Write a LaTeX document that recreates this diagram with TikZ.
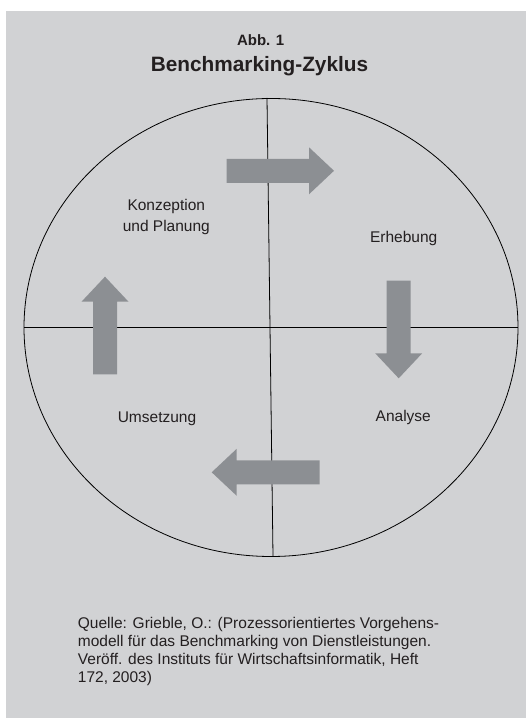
\documentclass[tikz,border=0pt]{standalone}
\usepackage{fontspec}
\setmainfont{Liberation Sans}
\usepackage{tikz}
\usetikzlibrary{positioning}
\definecolor{PanelBG}{HTML}{D1D2D4}
\definecolor{ArrowGrey}{HTML}{8C8F93}
\definecolor{InkCol}{HTML}{231F20}

\begin{document}
\begin{tikzpicture}[x=1pt,y=1pt,
  every node/.style={inner sep=0pt, text=InkCol},
  phase/.style={font=\fontsize{15.5}{21.3}\selectfont, align=center, anchor=base},
  axis/.style={draw=black, line width=0.8pt},
  pics/blockarrow/.style={code={
    \fill[ArrowGrey] (0,-12) -- (#1-25,-12) -- (#1-25,-23.5) -- (#1,0)
      -- (#1-25,23.5) -- (#1-25,12) -- (0,12) -- cycle;}}]
  \useasboundingbox (0,0) rectangle (526,718);
  \fill[PanelBG] (6,0) rectangle (526,707);
  % title
  \node[font=\bfseries\fontsize{15}{18}\selectfont, anchor=base] (abb) at (260.7,672) {Abb. 1};
  \node[font=\bfseries\fontsize{20.8}{24}\selectfont, anchor=base] (title) at (259.5,646.3) {Benchmarking-Zyklus};
  % cycle
  \draw[axis] (271,390.5) ellipse [x radius=247, y radius=229];
  \coordinate (west) at (24,390.3);
  \coordinate (east) at (518,390.3);
  \coordinate (north) at (267,620);
  \coordinate (south) at (273,162);
  \draw[axis] (west) -- (east);
  \draw[axis] (north) -- (south);
  \pic at (226.7,547.2) {blockarrow=107.3};
  \pic[rotate=270] at (398.7,437.3) {blockarrow=97.6};
  \pic[rotate=180] at (319.7,245.7) {blockarrow=108};
  \pic[rotate=90] at (105,343.7) {blockarrow=97.6};
  \node[phase] (plan) at (166.3,486.3) {Konzeption\\und Planung};
  \node[phase] (erheb) at (403.7,475.7) {Erhebung};
  \node[phase] (analyse) at (403.3,296.3) {Analyse};
  \node[phase] (umsetz) at (157,295.7) {Umsetzung};
  % source
  \node[font=\fontsize{15.5}{18}\selectfont, align=left, anchor=base west] (quelle) at (77.7,35)
    {Quelle: Grieble, O.: (Prozessorientiertes Vorgehens-\\
     modell für das Benchmarking von Dienstleistungen.\\
     Veröff. des Instituts für Wirtschaftsinformatik, Heft\\
     172, 2003)};
\end{tikzpicture}
\end{document}
